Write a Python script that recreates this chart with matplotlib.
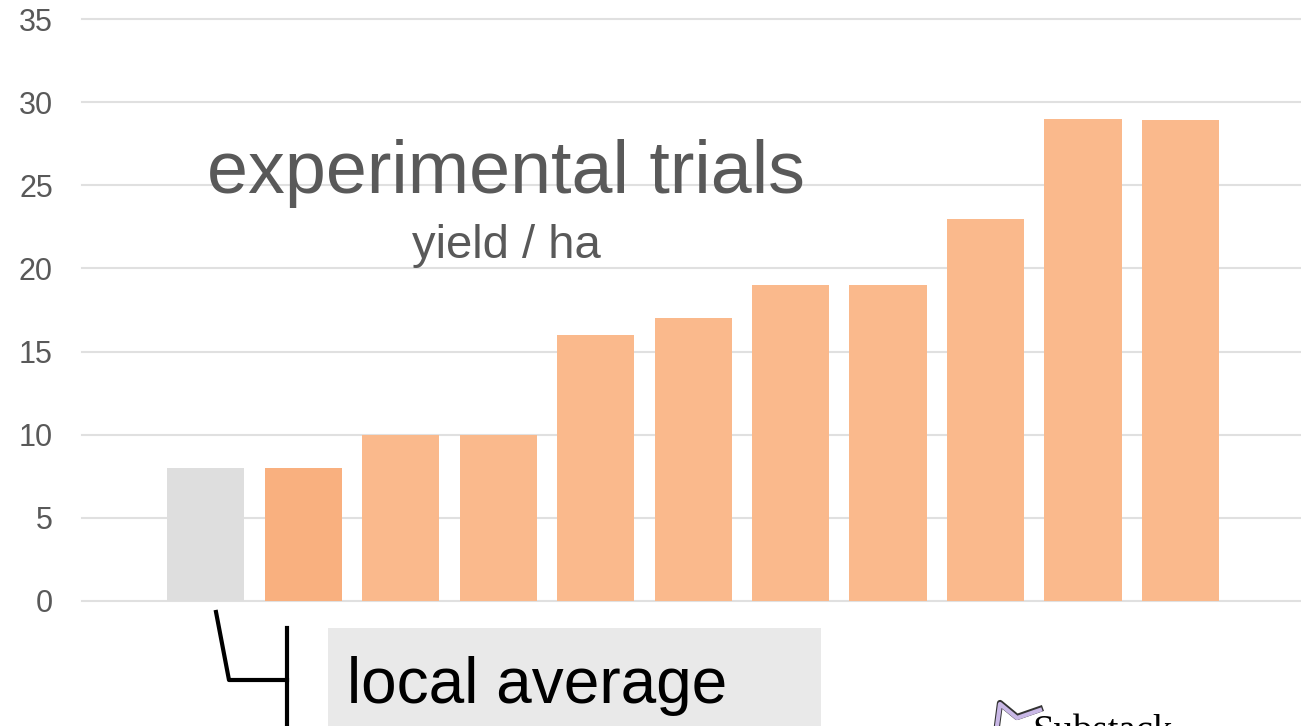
import matplotlib
matplotlib.use("Agg")
import matplotlib.pyplot as plt
from matplotlib.patches import Rectangle
from matplotlib.lines import Line2D

plt.rcParams['font.family'] = ['Liberation Sans', 'DejaVu Sans']

categories = ["local", "t1", "t2", "t3", "t4", "t5", "t6", "t7", "t8", "t9", "t10"]
values = [8, 8, 10, 10, 16, 17, 19, 19, 23, 29, 28.9]
colors = ["#DEDEDE", "#F9B07F"] + ["#FAB98C"] * 9
yticks = [0, 5, 10, 15, 20, 25, 30, 35]

W, H = 1301, 726
fig = plt.figure(figsize=(W / 100, H / 100), dpi=100)

def fx(px):
    return px / W

def fy(py):
    return 1 - py / H

ax = fig.add_axes([fx(82), fy(601), fx(1301) - fx(82), fy(19) - fy(601)])
x = list(range(len(categories)))
ax.bar(x, values, width=0.79, color=colors, zorder=2)
ax.set_xlim(-1.267, 11.236)
ax.set_ylim(0, 35)
ax.set_yticks(yticks)
ax.set_yticklabels([str(t) for t in yticks], fontsize=22, color="#595959")
ax.tick_params(axis='y', length=0, pad=21)
ax.set_xticks([])
ax.grid(axis='y', color="#E0E0E0", linewidth=1.5, zorder=0)
for g in ax.get_ygridlines():
    g.set_clip_on(False)
for s in ax.spines.values():
    s.set_visible(False)

fig.text(fx(506), fy(193), "experimental trials", ha="center", va="baseline",
         fontsize=53, color="#595959")
fig.text(fx(506), fy(258), "yield / ha", ha="center", va="baseline",
         fontsize=34, color="#595959")

# annotation box
fig.patches.append(Rectangle((fx(328), fy(726)), fx(821) - fx(328), fy(628) - fy(726),
                             transform=fig.transFigure, facecolor="#E9E9E9",
                             edgecolor="none", zorder=1))
fig.text(fx(347), fy(703), "local average", ha="left", va="baseline",
         fontsize=46, color="black", zorder=3)

# connector
fig.lines.append(Line2D([fx(216), fx(229), fx(287)], [fy(612), fy(680), fy(680)],
                        transform=fig.transFigure, color="black", linewidth=3))
fig.lines.append(Line2D([fx(287), fx(287)], [fy(628), fy(726)],
                        transform=fig.transFigure, color="black", linewidth=3))

# partial logo at bottom right
fig.lines.append(Line2D([fx(997), fx(1000), fx(1017), fx(1040)],
                        [fy(726), fy(703), fy(717), fy(709)],
                        transform=fig.transFigure, color="#333333", linewidth=4.5))
fig.lines.append(Line2D([fx(997), fx(1000), fx(1017), fx(1040)],
                        [fy(726), fy(704), fy(718), fy(710)],
                        transform=fig.transFigure, color="#C9B8E6", linewidth=3))
fig.text(fx(1032), fy(742), "Substack", ha="left", va="baseline",
         fontsize=28, color="black", family="Liberation Serif")

fig.savefig("out.png", dpi=100)
